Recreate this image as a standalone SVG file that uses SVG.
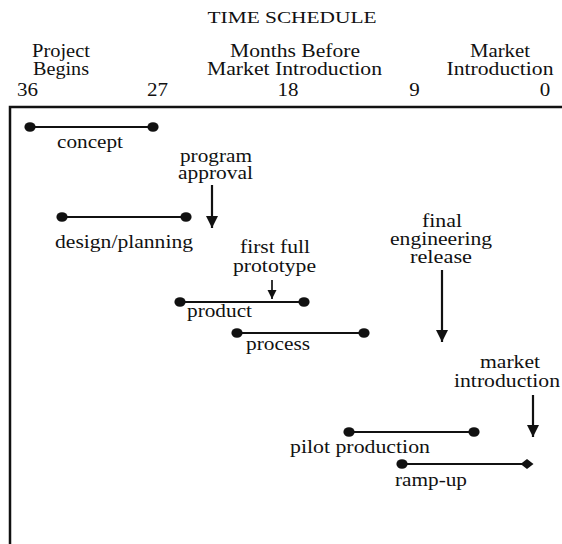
<svg xmlns="http://www.w3.org/2000/svg" width="562" height="544" viewBox="0 0 562 544">
  <defs>
    <style>
      text { font-family: "Liberation Serif", "Times New Roman", serif; font-size: 18.5px; fill: #111; text-anchor: middle; }
      .hd { font-size: 18px; }
      .title { font-size: 16.5px; }
      .bar { stroke: #111; stroke-width: 2; }
      .dot { fill: #111; }
      .frame { stroke: #111; stroke-width: 2.5; fill: none; }
      .arrow { stroke: #111; stroke-width: 2.2; marker-end: url(#head); }
      .arrow.small { stroke-width: 1.7; }
    </style>
    <marker id="head" viewBox="0 0 10 10" refX="10" refY="5" markerWidth="5.5" markerHeight="6" markerUnits="strokeWidth" orient="auto">
      <path d="M0,0 L10,5 L0,10 Z" fill="#111"/>
    </marker>
  </defs>
  <rect width="562" height="544" fill="#fff"/>

  <!-- header and time axis -->
  <g id="header">
    <text class="title" x="292" y="23" textLength="169" lengthAdjust="spacingAndGlyphs">TIME SCHEDULE</text>
    <text class="hd" x="61" y="57" textLength="58" lengthAdjust="spacingAndGlyphs">Project</text>
    <text class="hd" x="61" y="75" textLength="56" lengthAdjust="spacingAndGlyphs">Begins</text>
    <text class="hd" x="295" y="57" textLength="130" lengthAdjust="spacingAndGlyphs">Months Before</text>
    <text class="hd" x="294.5" y="75" textLength="175" lengthAdjust="spacingAndGlyphs">Market Introduction</text>
    <text class="hd" x="500" y="57" textLength="60" lengthAdjust="spacingAndGlyphs">Market</text>
    <text class="hd" x="500" y="75" textLength="107" lengthAdjust="spacingAndGlyphs">Introduction</text>
    <text class="hd" x="27.5" y="96" textLength="21" lengthAdjust="spacingAndGlyphs">36</text>
    <text class="hd" x="157.5" y="96" textLength="21" lengthAdjust="spacingAndGlyphs">27</text>
    <text class="hd" x="288" y="96" textLength="21" lengthAdjust="spacingAndGlyphs">18</text>
    <text class="hd" x="414.5" y="96" textLength="10.5" lengthAdjust="spacingAndGlyphs">9</text>
    <text class="hd" x="545" y="96" textLength="10.5" lengthAdjust="spacingAndGlyphs">0</text>
  </g>

  <!-- chart frame -->
  <path class="frame" d="M10,544 L10,107 L562,107"/>

  <!-- activity bars -->
  <g id="concept">
    <line class="bar" x1="30" y1="127" x2="153" y2="127"/>
    <ellipse class="dot" cx="30" cy="127" rx="5.6" ry="4.8"/>
    <ellipse class="dot" cx="153" cy="127" rx="5.6" ry="4.8"/>
    <text x="90" y="148" textLength="66" lengthAdjust="spacingAndGlyphs">concept</text>
  </g>
  <g id="design-planning">
    <line class="bar" x1="62" y1="217" x2="186" y2="217"/>
    <ellipse class="dot" cx="62" cy="217" rx="5.6" ry="4.8"/>
    <ellipse class="dot" cx="186" cy="217" rx="5.6" ry="4.8"/>
    <text x="124" y="248" textLength="138" lengthAdjust="spacingAndGlyphs">design/planning</text>
  </g>
  <g id="product">
    <line class="bar" x1="180" y1="302" x2="304" y2="302"/>
    <ellipse class="dot" cx="180" cy="302" rx="5.6" ry="4.8"/>
    <ellipse class="dot" cx="304" cy="302" rx="5.6" ry="4.8"/>
    <text x="219.5" y="317" textLength="65" lengthAdjust="spacingAndGlyphs">product</text>
  </g>
  <g id="process">
    <line class="bar" x1="237" y1="333" x2="364" y2="333"/>
    <ellipse class="dot" cx="237" cy="333" rx="5.6" ry="4.8"/>
    <ellipse class="dot" cx="364" cy="333" rx="5.6" ry="4.8"/>
    <text x="278" y="350" textLength="64" lengthAdjust="spacingAndGlyphs">process</text>
  </g>
  <g id="pilot-production">
    <line class="bar" x1="349" y1="432" x2="474" y2="432"/>
    <ellipse class="dot" cx="349" cy="432" rx="5.6" ry="4.8"/>
    <ellipse class="dot" cx="474" cy="432" rx="5.6" ry="4.8"/>
    <text x="360" y="453" textLength="140" lengthAdjust="spacingAndGlyphs">pilot production</text>
  </g>
  <g id="ramp-up">
    <line class="bar" x1="402" y1="464" x2="527" y2="464"/>
    <ellipse class="dot" cx="402" cy="464" rx="5.6" ry="4.8"/>
    <path class="dot" d="M527,459 L533.5,464 L527,469 L520.5,464 Z"/>
    <text x="431" y="486" textLength="72" lengthAdjust="spacingAndGlyphs">ramp-up</text>
  </g>

  <!-- milestones -->
  <g id="program-approval">
    <text x="216" y="162" textLength="72" lengthAdjust="spacingAndGlyphs">program</text>
    <text x="215.5" y="179" textLength="75" lengthAdjust="spacingAndGlyphs">approval</text>
  </g>
  <g id="first-full-prototype">
    <text x="275" y="253" textLength="70" lengthAdjust="spacingAndGlyphs">first full</text>
    <text x="274.5" y="272" textLength="83" lengthAdjust="spacingAndGlyphs">prototype</text>
  </g>
  <g id="final-engineering-release">
    <text x="442" y="227" textLength="40" lengthAdjust="spacingAndGlyphs">final</text>
    <text x="441" y="245" textLength="102" lengthAdjust="spacingAndGlyphs">engineering</text>
    <text x="441" y="263" textLength="62" lengthAdjust="spacingAndGlyphs">release</text>
  </g>
  <g id="market-introduction">
    <text x="510" y="368" textLength="60" lengthAdjust="spacingAndGlyphs">market</text>
    <text x="507" y="387" textLength="106" lengthAdjust="spacingAndGlyphs">introduction</text>
  </g>

  <!-- milestone arrows -->
  <g id="connectors">
    <line class="arrow" x1="212" y1="185" x2="212" y2="228"/>
    <line class="arrow small" x1="272" y1="280" x2="272" y2="299"/>
    <line class="arrow" x1="442" y1="270" x2="442" y2="342"/>
    <line class="arrow" x1="533" y1="395" x2="533" y2="437"/>
  </g>
</svg>
